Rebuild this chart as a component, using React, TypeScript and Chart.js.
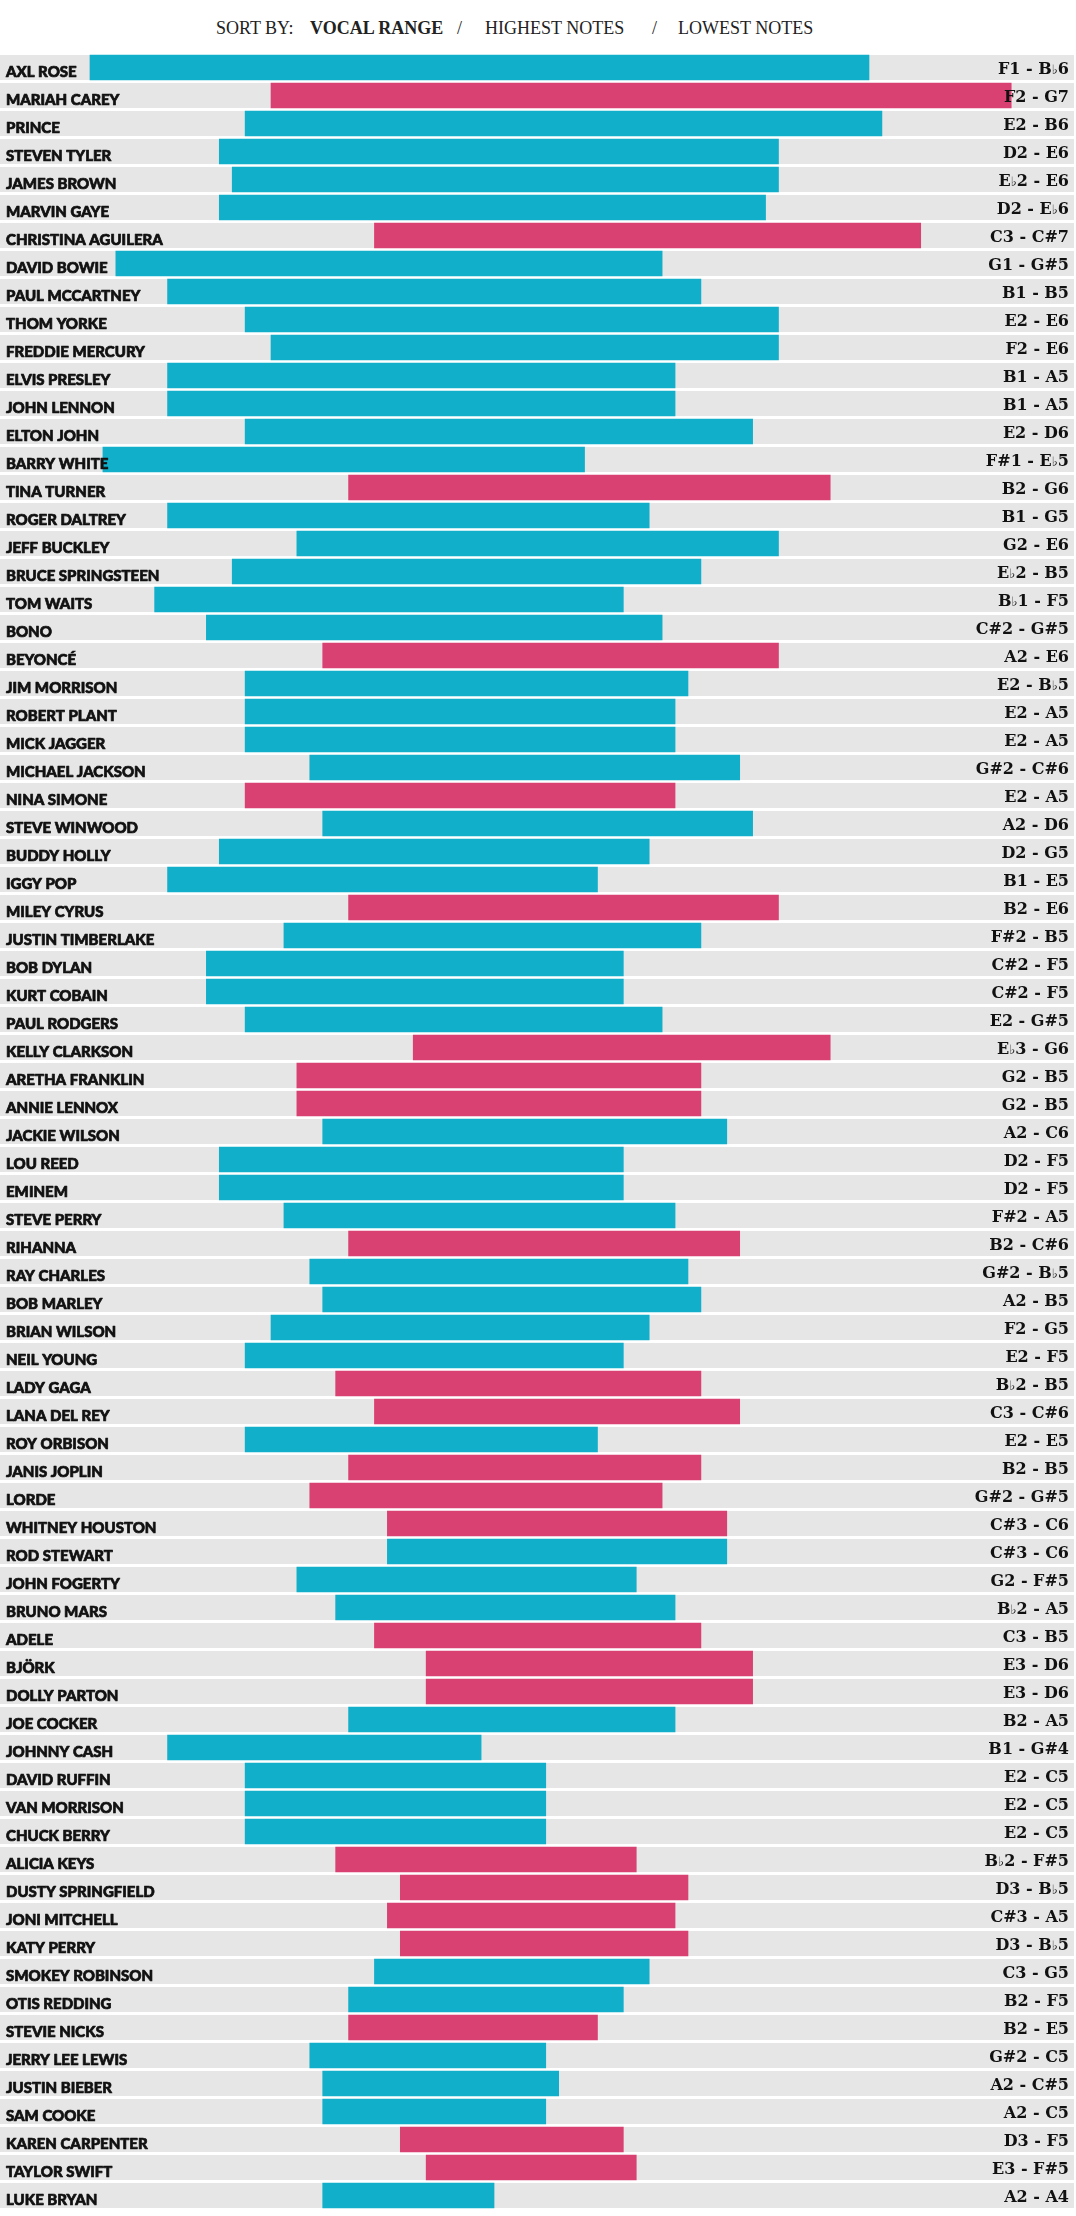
import { useEffect, useRef } from "react";
import { Chart, registerables } from "chart.js";

Chart.register(...registerables);

// Singers, top to bottom
const singers = [
  "AXL ROSE", "MARIAH CAREY", "PRINCE", "STEVEN TYLER", "JAMES BROWN", "MARVIN GAYE",
  "CHRISTINA AGUILERA", "DAVID BOWIE", "PAUL MCCARTNEY", "THOM YORKE", "FREDDIE MERCURY",
  "ELVIS PRESLEY", "JOHN LENNON", "ELTON JOHN", "BARRY WHITE", "TINA TURNER", "ROGER DALTREY",
  "JEFF BUCKLEY", "BRUCE SPRINGSTEEN", "TOM WAITS", "BONO", "BEYONCÉ", "JIM MORRISON",
  "ROBERT PLANT", "MICK JAGGER", "MICHAEL JACKSON", "NINA SIMONE", "STEVE WINWOOD",
  "BUDDY HOLLY", "IGGY POP", "MILEY CYRUS", "JUSTIN TIMBERLAKE", "BOB DYLAN", "KURT COBAIN",
  "PAUL RODGERS", "KELLY CLARKSON", "ARETHA FRANKLIN", "ANNIE LENNOX", "JACKIE WILSON",
  "LOU REED", "EMINEM", "STEVE PERRY", "RIHANNA", "RAY CHARLES", "BOB MARLEY", "BRIAN WILSON",
  "NEIL YOUNG", "LADY GAGA", "LANA DEL REY", "ROY ORBISON", "JANIS JOPLIN", "LORDE",
  "WHITNEY HOUSTON", "ROD STEWART", "JOHN FOGERTY", "BRUNO MARS", "ADELE", "BJÖRK",
  "DOLLY PARTON", "JOE COCKER", "JOHNNY CASH", "DAVID RUFFIN", "VAN MORRISON", "CHUCK BERRY",
  "ALICIA KEYS", "DUSTY SPRINGFIELD", "JONI MITCHELL", "KATY PERRY", "SMOKEY ROBINSON",
  "OTIS REDDING", "STEVIE NICKS", "JERRY LEE LEWIS", "JUSTIN BIEBER", "SAM COOKE",
  "KAREN CARPENTER", "TAYLOR SWIFT", "LUKE BRYAN",
];

// Lowest note of each singer's range
const lowNotes = [
  "F1", "F2", "E2", "D2", "E♭2", "D2",
  "C3", "G1", "B1", "E2", "F2",
  "B1", "B1", "E2", "F#1", "B2", "B1",
  "G2", "E♭2", "B♭1", "C#2", "A2", "E2",
  "E2", "E2", "G#2", "E2", "A2",
  "D2", "B1", "B2", "F#2", "C#2", "C#2",
  "E2", "E♭3", "G2", "G2", "A2",
  "D2", "D2", "F#2", "B2", "G#2", "A2", "F2",
  "E2", "B♭2", "C3", "E2", "B2", "G#2",
  "C#3", "C#3", "G2", "B♭2", "C3", "E3",
  "E3", "B2", "B1", "E2", "E2", "E2",
  "B♭2", "D3", "C#3", "D3", "C3",
  "B2", "B2", "G#2", "A2", "A2",
  "D3", "E3", "A2",
];

// Highest note of each singer's range
const highNotes = [
  "B♭6", "G7", "B6", "E6", "E6", "E♭6",
  "C#7", "G#5", "B5", "E6", "E6",
  "A5", "A5", "D6", "E♭5", "G6", "G5",
  "E6", "B5", "F5", "G#5", "E6", "B♭5",
  "A5", "A5", "C#6", "A5", "D6",
  "G5", "E5", "E6", "B5", "F5", "F5",
  "G#5", "G6", "B5", "B5", "C6",
  "F5", "F5", "A5", "C#6", "B♭5", "B5", "G5",
  "F5", "B5", "C#6", "E5", "B5", "G#5",
  "C6", "C6", "F#5", "A5", "B5", "D6",
  "D6", "A5", "G#4", "C5", "C5", "C5",
  "F#5", "B♭5", "A5", "B♭5", "G5",
  "F5", "E5", "C5", "C#5", "C5",
  "F5", "F#5", "A4",
];

// F = female voice, M = male voice
const voices = [
  "M", "F", "M", "M", "M", "M",
  "F", "M", "M", "M", "M",
  "M", "M", "M", "M", "F", "M",
  "M", "M", "M", "M", "F", "M",
  "M", "M", "M", "F", "M",
  "M", "M", "F", "M", "M", "M",
  "M", "F", "F", "F", "M",
  "M", "M", "M", "F", "M", "M", "M",
  "M", "F", "F", "M", "F", "F",
  "F", "M", "M", "M", "F", "F",
  "F", "M", "M", "M", "M", "M",
  "F", "F", "F", "F", "M",
  "M", "F", "M", "M", "M",
  "F", "F", "M",
];

const sortOptions = ["VOCAL RANGE", "HIGHEST NOTES", "LOWEST NOTES"];

const MALE_COLOR = "#12afca";
const FEMALE_COLOR = "#da4173";
const BAND_COLOR = "#e6e6e6";
const TEXT_COLOR = "#111111";

// Staff-style note position: two steps per white key, so E#/B# slots exist
const LETTER_STEP: Record<string, number> = { C: 0, D: 2, E: 4, F: 6, G: 8, A: 10, B: 12 };
const STEPS_PER_OCTAVE = 14;
// right end of each bar sits this many steps below its note's slot
const HIGH_END_SHIFT = 14.75;

function noteStep(note: string): number {
  const letter = note[0];
  const octave = parseInt(note[note.length - 1], 10);
  let acc = 0;
  if (note.includes("#")) acc = 1;
  if (note.includes("♭")) acc = -1;
  return octave * STEPS_PER_OCTAVE + LETTER_STEP[letter] + acc;
}

const ranges = singers.map((_, i) => [noteStep(lowNotes[i]), noteStep(highNotes[i]) - HIGH_END_SHIFT]);
const colors = voices.map((v) => (v === "F" ? FEMALE_COLOR : MALE_COLOR));

const ROW_PITCH = 28;
const BAND_H = 25;
const BAND_W = 1074;

function drawRangeLabel(ctx: CanvasRenderingContext2D, text: string, right: number, baseline: number) {
  const mainFont = "bold 16px 'DejaVu Serif'";
  const flatFont = "bold 13px 'DejaVu Sans'";
  const parts: { s: string; font: string }[] = [];
  text.split("♭").forEach((seg, k) => {
    if (k > 0) parts.push({ s: "♭", font: flatFont });
    if (seg) parts.push({ s: seg, font: mainFont });
  });
  let total = 0;
  const widths = parts.map((p) => {
    ctx.font = p.font;
    const w = ctx.measureText(p.s).width;
    total += w;
    return w;
  });
  let x = right - total;
  parts.forEach((p, k) => {
    ctx.font = p.font;
    ctx.fillText(p.s, x, baseline);
    x += widths[k];
  });
}

const rowsPlugin = {
  id: "rowBands",
  beforeDatasetsDraw(chart: Chart) {
    const { ctx } = chart;
    const y = chart.scales.y;
    ctx.save();
    ctx.fillStyle = BAND_COLOR;
    singers.forEach((_, i) => {
      const c = y.getPixelForValue(i);
      ctx.fillRect(0, c - BAND_H / 2, BAND_W, BAND_H);
    });
    ctx.restore();
  },
  afterDatasetsDraw(chart: Chart) {
    const { ctx } = chart;
    const y = chart.scales.y;
    ctx.save();
    ctx.fillStyle = TEXT_COLOR;
    ctx.strokeStyle = TEXT_COLOR;
    ctx.lineWidth = 0.7;
    ctx.lineJoin = "round";
    ctx.textBaseline = "alphabetic";
    ctx.textAlign = "left";
    singers.forEach((name, i) => {
      const c = y.getPixelForValue(i);
      ctx.font = "900 15px Lato";
      ctx.fillText(name, 6, c + 9.3);
      ctx.strokeText(name, 6, c + 9.3);
      drawRangeLabel(ctx, `${lowNotes[i]} - ${highNotes[i]}`, 1069, c + 6.8);
    });
    ctx.restore();
  },
};

function RangeChart() {
  const ref = useRef<HTMLCanvasElement | null>(null);
  useEffect(() => {
    if (!ref.current) return;
    const chart = new Chart(ref.current, {
      type: "bar",
      data: {
        labels: singers,
        datasets: [
          {
            data: ranges as any,
            backgroundColor: colors,
            borderWidth: 0,
            borderSkipped: false,
            barThickness: BAND_H,
          },
        ],
      },
      options: {
        indexAxis: "y",
        responsive: false,
        animation: false,
        devicePixelRatio: 1,
        layout: { padding: { top: 13.5, bottom: 6.5, left: 0, right: 0 } },
        scales: {
          x: { type: "linear", min: 13.04, max: 96.26, display: false },
          y: { type: "category", display: false, offset: true },
        },
        plugins: { legend: { display: false }, tooltip: { enabled: false } },
      },
      plugins: [rowsPlugin],
    });
    return () => chart.destroy();
  }, []);
  return (
    <canvas
      ref={ref}
      width={1076}
      height={singers.length * ROW_PITCH + 20}
      style={{ position: "absolute", left: 0, top: 40, width: 1076, height: singers.length * ROW_PITCH + 20, display: "block" }}
    />
  );
}

const headerItems = [
  { text: "SORT BY:", x: 216, bold: false },
  { text: sortOptions[0], x: 310, bold: true },
  { text: "/", x: 457, bold: false },
  { text: sortOptions[1], x: 485, bold: false },
  { text: "/", x: 652, bold: false },
  { text: sortOptions[2], x: 678, bold: false },
];

export default function App() {
  useEffect(() => {
    document.body.style.margin = "0";
  }, []);
  return (
    <div style={{ position: "absolute", left: 0, top: 0, width: 1076, height: 2216, background: "#fff", overflow: "hidden" }}>
      {headerItems.map((h, i) => (
        <span
          key={i}
          style={{
            position: "absolute",
            left: h.x,
            top: 19,
            fontFamily: "'Liberation Serif', serif",
            fontSize: 18,
            lineHeight: "18px",
            fontWeight: h.bold ? 700 : 400,
            color: "#222",
            whiteSpace: "nowrap",
          }}
        >
          {h.text}
        </span>
      ))}
      <RangeChart />
    </div>
  );
}
